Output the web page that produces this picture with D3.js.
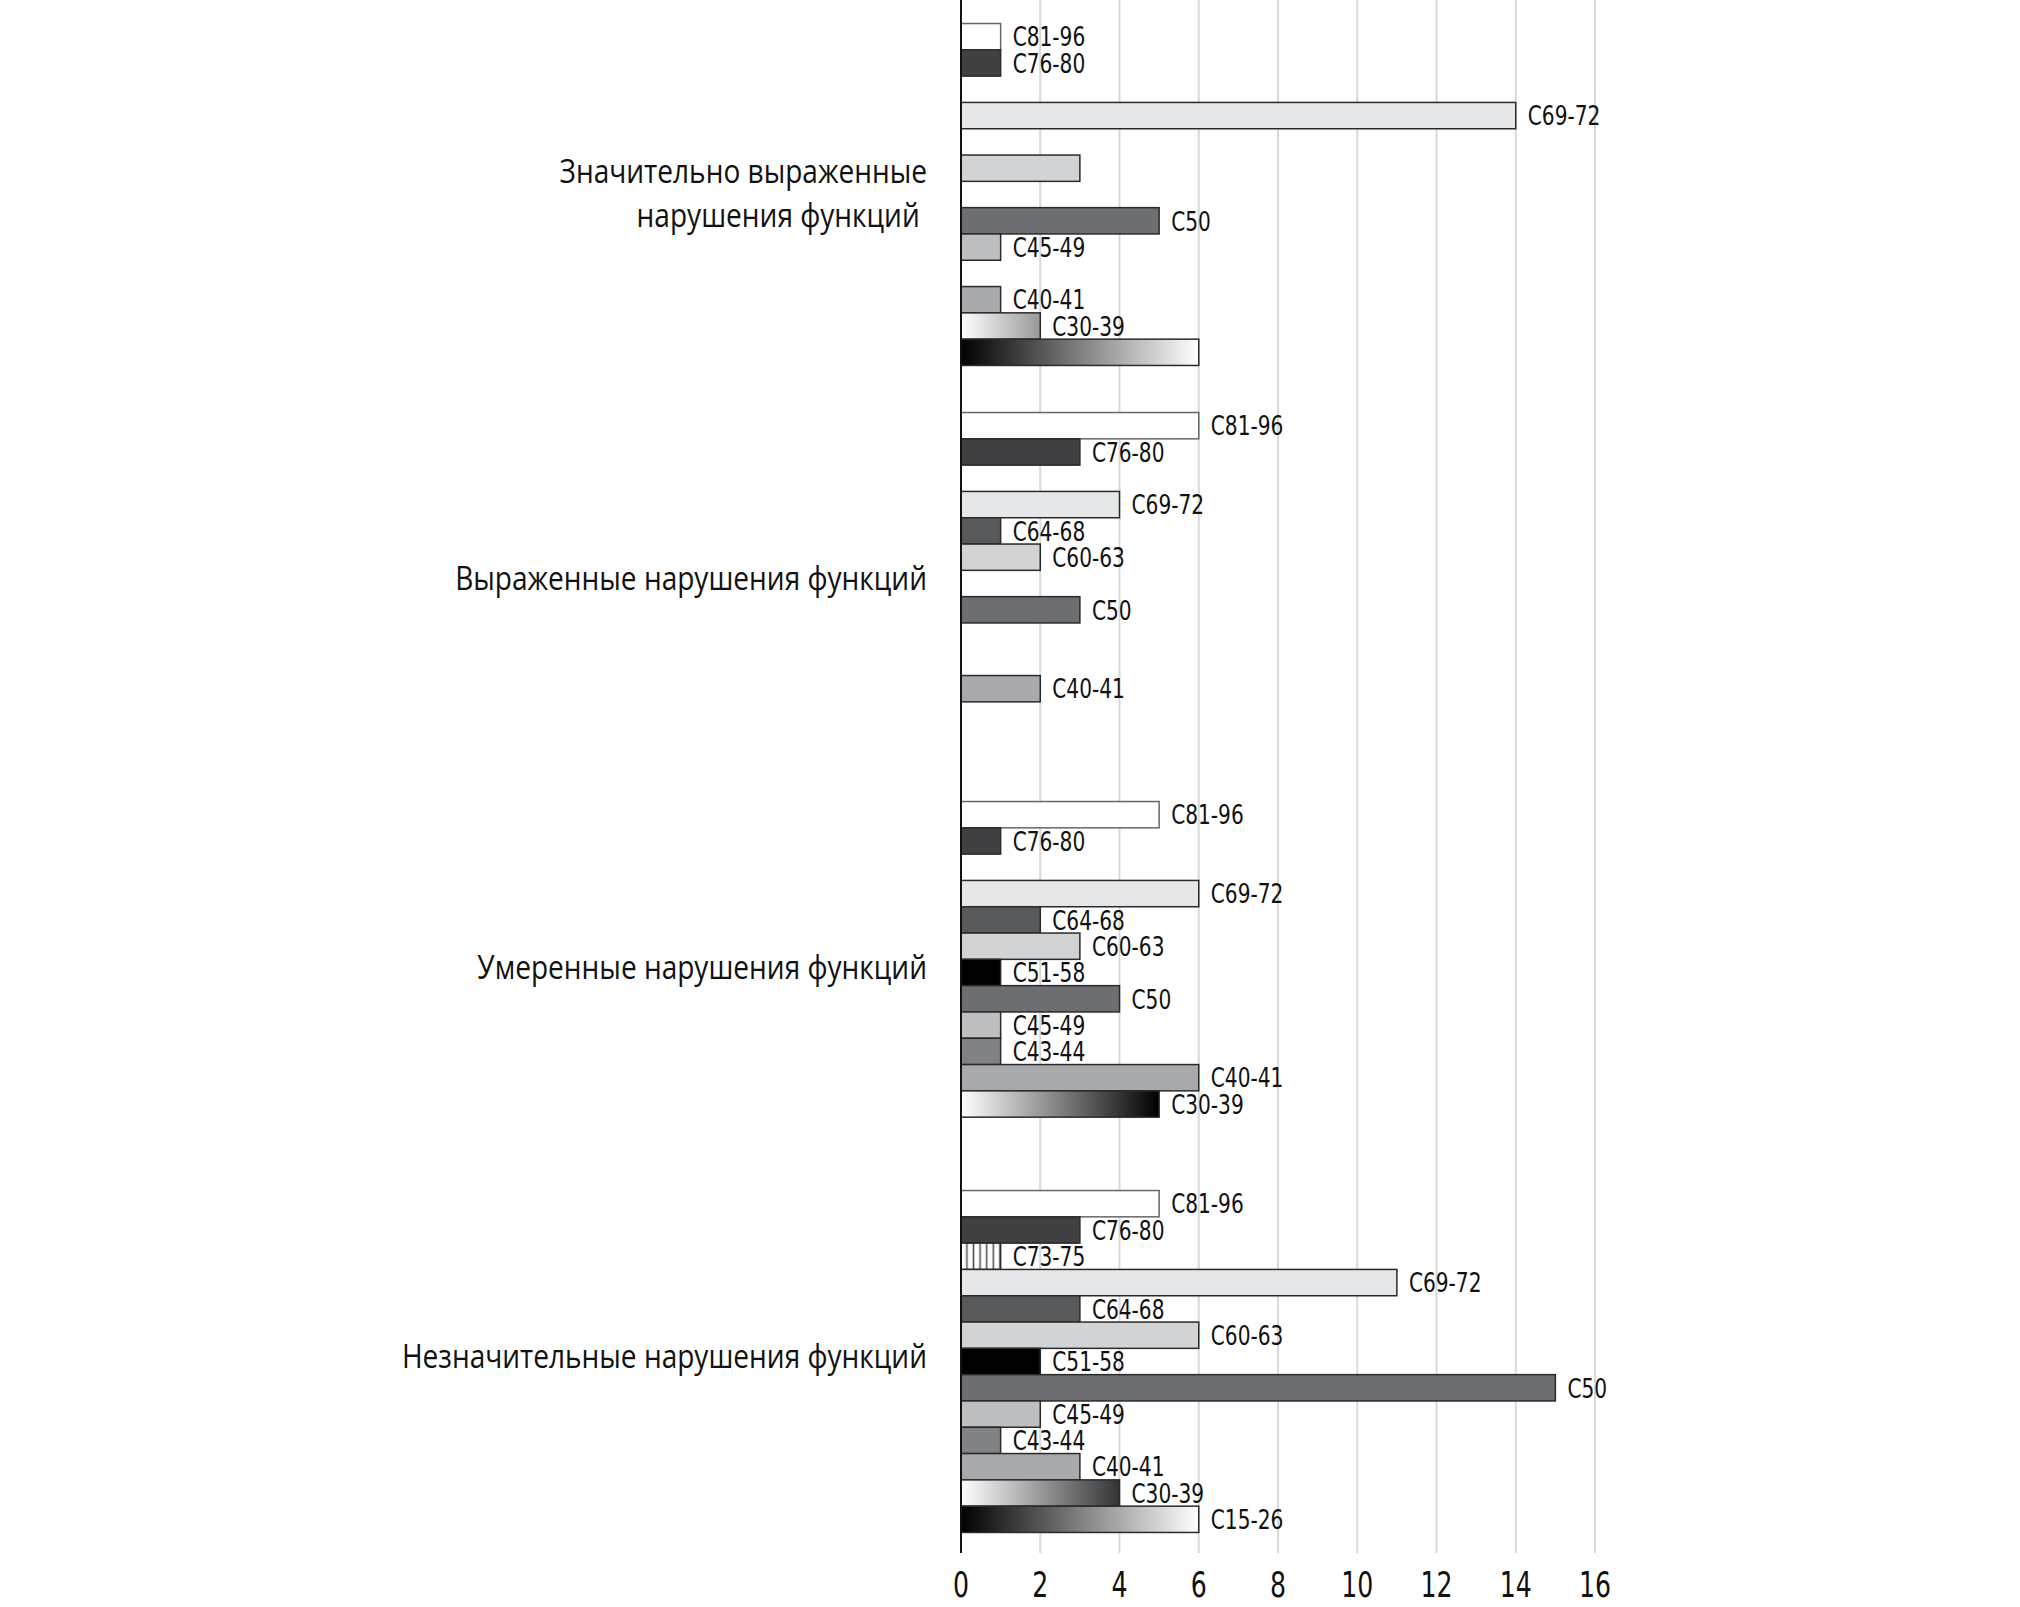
<!DOCTYPE html>
<html>
<head>
<meta charset="utf-8">
<script src="https://cdn.jsdelivr.net/npm/d3@7"></script>
<style>
  body { margin: 0; background: #fff; }
  svg { display: block; }
  .bar-label { font-family: "Liberation Sans Narrow", "DejaVu Sans Condensed", sans-serif; font-size: 27px; fill: #111; }
  .tick-label { font-family: "Liberation Sans Narrow", "DejaVu Sans Condensed", sans-serif; font-size: 35px; fill: #111; }
  .cat-label { font-family: "Open Sans", "Noto Sans", sans-serif; font-size: 33px; fill: #111; }
</style>
</head>
<body>
<div id="chart"></div>
<script>
(() => {
  "use strict";

  // categories, top to bottom
  const categories = ["significant", "marked", "moderate", "minor"];
  const categoryLines = [
    ["Значительно выраженные", "нарушения функций\u00A0"],
    ["Выраженные нарушения функций"],
    ["Умеренные нарушения функций"],
    ["Незначительные нарушения функций"]
  ];

  // series, top to bottom inside each group
  const seriesKeys = ["C81-96","C76-80","C73-75","C69-72","C64-68","C60-63","C51-58","C50","C45-49","C43-44","C40-41","C30-39","C15-26"];

  const valuesSignificant = [1, 1, 0, 14, 0, 3, 0, 5, 1, 0, 1, 2, 6];
  const valuesMarked      = [6, 3, 0, 4, 1, 2, 0, 3, 0, 0, 2, 0, 0];
  const valuesModerate    = [5, 1, 0, 6, 2, 3, 1, 4, 1, 1, 6, 5, 0];
  const valuesMinor       = [5, 3, 1, 11, 3, 6, 2, 15, 2, 1, 3, 4, 6];

  // bars that carry no label in the original
  const unlabeled = ["significant:C60-63", "significant:C15-26"];

  const xTicks = [0, 2, 4, 6, 8, 10, 12, 14, 16];

  const fills = {
    "C81-96": "#ffffff",
    "C76-80": "#414042",
    "C73-75": "url(#stripes)",
    "C69-72": "#e6e7e8",
    "C64-68": "#58595b",
    "C60-63": "#d1d3d4",
    "C51-58": "#000000",
    "C50":    "#6d6e71",
    "C45-49": "#bcbec0",
    "C43-44": "#808285",
    "C40-41": "#a7a9ac",
    "C30-39": "url(#gradWB)",
    "C15-26": "url(#gradBW)"
  };

  const W = 2020, H = 1607;
  const svg = d3.select("#chart").append("svg").attr("width", W).attr("height", H);
  svg.append("rect").attr("width", W).attr("height", H).attr("fill", "#fff");

  const x = d3.scaleLinear().domain([0, 16]).range([961, 1595]);
  const y = d3.scaleBand().domain(categories).range([0, 1556]).paddingInner(0.121).paddingOuter(0.0605);
  const ys = d3.scaleBand().domain(seriesKeys).range([0, y.bandwidth()]);

  const rows = [valuesSignificant, valuesMarked, valuesModerate, valuesMinor];
  const bars = [];
  categories.forEach((c, ci) => {
    seriesKeys.forEach((k, si) => {
      bars.push({cat: c, key: k, value: rows[ci][si]});
    });
  });

  // defs: stripes + gradients
  const defs = svg.append("defs");
  const pat = defs.append("pattern").attr("id", "stripes")
    .attr("patternUnits", "userSpaceOnUse").attr("width", 6.6).attr("height", 10);
  pat.append("rect").attr("width", 6.6).attr("height", 10).attr("fill", "#fff");
  pat.append("line").attr("x1", 3.3).attr("x2", 3.3).attr("y1", 0).attr("y2", 10)
    .attr("stroke", "#555").attr("stroke-width", 1.6);

  const gWB = defs.append("linearGradient").attr("id", "gradWB")
    .attr("gradientUnits", "userSpaceOnUse")
    .attr("x1", x(0)).attr("x2", x(5)).attr("y1", 0).attr("y2", 0);
  gWB.append("stop").attr("offset", "0%").attr("stop-color", "#ffffff");
  gWB.append("stop").attr("offset", "100%").attr("stop-color", "#000000");

  const gBW = defs.append("linearGradient").attr("id", "gradBW")
    .attr("gradientUnits", "userSpaceOnUse")
    .attr("x1", x(0)).attr("x2", x(6)).attr("y1", 0).attr("y2", 0);
  gBW.append("stop").attr("offset", "0%").attr("stop-color", "#000000");
  gBW.append("stop").attr("offset", "100%").attr("stop-color", "#ffffff");

  // gridlines
  svg.append("g").selectAll("line").data(xTicks.filter(t => t > 0)).join("line")
    .attr("x1", d => x(d)).attr("x2", d => x(d))
    .attr("y1", 0).attr("y2", 1553)
    .attr("stroke", "#d9d9d9").attr("stroke-width", 2);

  // bars
  const barY = d => y(d.cat) + ys(d.key);
  svg.append("g").selectAll("rect").data(bars.filter(d => d.value > 0)).join("rect")
    .attr("x", x(0))
    .attr("y", barY)
    .attr("width", d => x(d.value) - x(0))
    .attr("height", ys.bandwidth())
    .attr("fill", d => fills[d.key])
    .attr("stroke", d => d.key === "C81-96" ? "#666" : "#2a2a2a")
    .attr("stroke-width", 1.5);

  // bar labels (condensed look: squeeze horizontally)
  svg.append("g").selectAll("text")
    .data(bars.filter(d => d.value > 0 && !unlabeled.includes(d.cat + ":" + d.key)))
    .join("text")
    .attr("class", "bar-label")
    .attr("transform", d => `translate(${x(d.value) + 12},${barY(d) + ys.bandwidth() / 2}) scale(0.83,1)`)
    .attr("dy", "0.36em")
    .text(d => d.key);

  // value axis line
  svg.append("line")
    .attr("x1", x(0)).attr("x2", x(0)).attr("y1", 0).attr("y2", 1553)
    .attr("stroke", "#111").attr("stroke-width", 2);

  // tick labels
  svg.append("g").selectAll("text").data(xTicks).join("text")
    .attr("class", "tick-label")
    .attr("transform", d => `translate(${x(d)},1597) scale(0.8,1)`)
    .attr("text-anchor", "middle")
    .text(d => d);

  // category labels
  const catG = svg.append("g").selectAll("g").data(categories).join("g")
    .attr("transform", d => `translate(927,${y(d) + y.bandwidth() / 2}) scale(0.85,1)`);
  catG.each(function(d, i) {
    const lines = categoryLines[i];
    const t = d3.select(this).append("text").attr("class", "cat-label").attr("text-anchor", "end");
    const lh = 44;
    const start = lines.length === 1 ? 6 : -12;
    lines.forEach((ln, j) => {
      t.append("tspan").attr("x", 0).attr("y", start + j * lh).text(ln);
    });
  });
})();
</script>
</body>
</html>
